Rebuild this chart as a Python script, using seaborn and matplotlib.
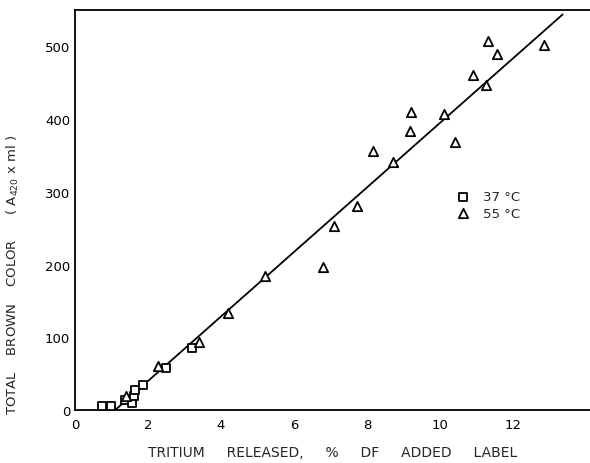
import matplotlib
matplotlib.use("Agg")
import matplotlib.pyplot as plt
import seaborn as sns
import pandas as pd

sns.set_theme(style="white")
plt.rcParams['font.family'] = ['DejaVu Sans']

# 37 °C (squares)
x37 = [0.75, 1.0, 1.37, 1.55, 1.62, 1.65, 1.85, 2.5, 3.2]
y37 = [6, 5, 14, 10, 20, 28, 34, 58, 86]
# 55 °C (triangles)
x55 = [1.4, 2.28, 3.4, 4.2, 5.2, 6.78, 7.1, 7.73, 8.16, 8.7, 9.18, 9.2,
       10.1, 10.4, 10.9, 11.25, 11.32, 11.55, 12.83]
y55 = [20, 61, 93, 134, 184, 197, 253, 281, 356, 341, 384, 410,
       407, 368, 461, 447, 507, 490, 502]
# fitted line end points
line_x = [1.1, 13.35]
line_y = [0, 544]

xticks = [0, 2, 4, 6, 8, 10, 12]
yticks = [0, 100, 200, 300, 400, 500]

fig = plt.figure(figsize=(5.9, 4.64), dpi=100)
ax = fig.add_axes([0.127, 0.114, 0.873, 0.862])

sns.lineplot(x=line_x, y=line_y, ax=ax, color="black", linewidth=1.3)
sns.scatterplot(x=x37, y=y37, ax=ax, marker="s", s=38, facecolor="white",
                edgecolor="black", linewidth=1.3, label="37 °C", zorder=3)
sns.scatterplot(x=x55, y=y55, ax=ax, marker="^", s=45, facecolor="white",
                edgecolor="black", linewidth=1.3, label="55 °C", zorder=3)

ax.set_xlim(0, 14.1)
ax.set_ylim(0, 550)
ax.set_xticks(xticks)
ax.set_yticks(yticks)
ax.tick_params(direction="in", length=5, width=1, colors="black", labelsize=9.5)
ax.tick_params(axis="x", pad=6)
for side in ["left", "bottom", "top"]:
    ax.spines[side].set_color("black")
    ax.spines[side].set_linewidth(1.3)
ax.spines["right"].set_visible(False)

ax.set_xlabel("TRITIUM     RELEASED,     %     DF     ADDED     LABEL", fontsize=10, labelpad=10)
ax.set_ylabel(r"TOTAL    BROWN    COLOR      ( A$_{420}$ x ml )", fontsize=9.5)
ax.yaxis.set_label_coords(-0.105, 0.34)

leg = ax.legend(frameon=False, loc="upper left", bbox_to_anchor=(0.705, 0.58),
                fontsize=9.5, handletextpad=0.5, labelspacing=0.3)

fig.savefig("out.png", dpi=100)
